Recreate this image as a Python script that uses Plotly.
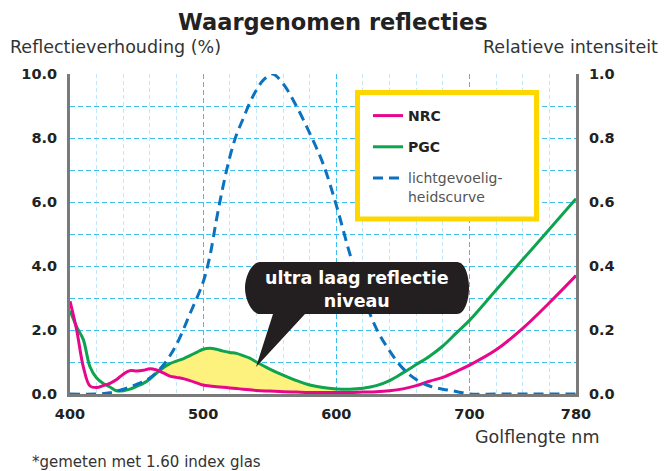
import plotly.graph_objects as go

# ---------------- data ----------------
wavelength = [400, 405, 410, 415, 420, 425, 430, 435, 440, 445, 450, 455, 460, 465,
              470, 475, 480, 485, 490, 495, 500, 505, 510, 515, 520, 525, 530, 535,
              540, 550, 560, 570, 580, 590, 600, 610, 620, 630, 640, 650, 660, 670,
              680, 690, 700, 720, 740, 760, 780]
nrc = [2.9, 2.0, 0.85, 0.25, 0.2, 0.26, 0.33, 0.45, 0.62, 0.73, 0.72, 0.74, 0.79, 0.75,
       0.66, 0.56, 0.52, 0.48, 0.42, 0.35, 0.28, 0.25, 0.23, 0.21, 0.19, 0.17, 0.15, 0.13,
       0.11, 0.09, 0.07, 0.06, 0.05, 0.05, 0.05, 0.05, 0.06, 0.07, 0.1, 0.16, 0.26, 0.4,
       0.52, 0.7, 0.9, 1.38, 2.05, 2.85, 3.7]
pgc = [2.6, 2.1, 1.7, 0.85, 0.5, 0.33, 0.22, 0.1, 0.1, 0.15, 0.24, 0.33, 0.47, 0.65,
       0.82, 0.95, 1.03, 1.1, 1.2, 1.3, 1.4, 1.43, 1.4, 1.34, 1.3, 1.27, 1.2, 1.12,
       1.0, 0.78, 0.59, 0.42, 0.28, 0.2, 0.16, 0.15, 0.18, 0.26, 0.42, 0.66, 0.92, 1.18,
       1.5, 1.9, 2.3, 3.25, 4.2, 5.15, 6.1]
sens_wavelength = [400, 420, 430, 440, 450, 460, 470, 480, 490, 500, 505, 510, 515, 520,
                   525, 530, 535, 540, 545, 552, 560, 570, 580, 590, 600, 610, 620, 630,
                   640, 650, 660, 670, 680, 690, 700, 720, 740, 760, 780]
sens_relative = [0.0, 0.0, 0.004, 0.015, 0.03, 0.05, 0.09, 0.155, 0.25, 0.35, 0.43, 0.545,
                 0.65, 0.74, 0.81, 0.86, 0.91, 0.95, 0.98, 1.0, 0.97, 0.9, 0.815, 0.72,
                 0.59, 0.44, 0.31, 0.205, 0.135, 0.08, 0.045, 0.025, 0.015, 0.008, 0.0,
                 0.0, 0.0, 0.0, 0.0]
x_tick_vals = [400, 500, 600, 700, 780]
x_tick_text = ["400", "500", "600", "700", "780"]
x_minor_grid = [420, 440, 460, 480, 520, 540, 560, 580, 620, 640, 660, 680, 720, 740, 760]
y_tick_vals = [0, 2, 4, 6, 8, 10]
y_tick_text = ["0.0", "2.0", "4.0", "6.0", "8.0", "10.0"]
y_minor_grid = [1, 3, 5, 7, 9]
y2_tick_vals = [0, 0.2, 0.4, 0.6, 0.8, 1.0]
y2_tick_text = ["0.0", "0.2", "0.4", "0.6", "0.8", "1.0"]
fill_start, fill_end = 470, 600

# ---------------- layout helpers (pixel -> paper) ----------------
L, R, T, B = 70, 576, 74, 394
def px(x):
    return (x - L) / (R - L)
def py(y):
    return (B - y) / (B - T)

FONT = "DejaVu Sans"
GRID = "#3fc0f0"
GRID_LIGHT = "#bfe7f8"
AXIS = "#7a7a7a"

fig = go.Figure()

idx = [i for i, w in enumerate(wavelength) if fill_start <= w <= fill_end]
fx = [wavelength[i] for i in idx]
fig.add_trace(go.Scatter(x=fx, y=[nrc[i] for i in idx], mode="lines",
                         line=dict(width=0, shape="spline", color="rgba(0,0,0,0)"),
                         showlegend=False, hoverinfo="skip"))
fig.add_trace(go.Scatter(x=fx, y=[pgc[i] for i in idx], mode="lines",
                         line=dict(width=0, shape="spline", color="rgba(0,0,0,0)"),
                         fill="tonexty", fillcolor="#fdf27e",
                         showlegend=False, hoverinfo="skip"))

fig.add_trace(go.Scatter(x=sens_wavelength, y=sens_relative, mode="lines", yaxis="y2",
                         name="<span style='color:#555'>lichtgevoelig-<br>heidscurve</span>",
                         line=dict(color="#0b72c0", width=3, dash="10px,6px", shape="spline"),
                         legendgroup="c", legendrank=3))
fig.add_trace(go.Scatter(x=wavelength, y=pgc, mode="lines", name="<b>PGC</b>",
                         line=dict(color="#0ea34f", width=3, shape="spline"),
                         legendgroup="b", legendrank=2))
fig.add_trace(go.Scatter(x=wavelength, y=nrc, mode="lines", name="<b>NRC</b>",
                         line=dict(color="#e8068a", width=3, shape="spline"),
                         legendgroup="a", legendrank=1))

tickfont = dict(family=FONT, size=14.5, color="#222", weight="bold")

# bubble path (pixels -> paper)
bubble_pts = [
    ("M", [(260, 262)]),
    ("L", [(457, 262)]),
    ("C", [(465, 262), (469, 276), (469, 288)]),
    ("C", [(469, 300), (465, 314), (457, 314)]),
    ("L", [(305, 314)]),
    ("L", [(256, 367)]),
    ("L", [(273, 314)]),
    ("L", [(260, 314)]),
    ("C", [(252, 314), (245, 300), (245, 288)]),
    ("C", [(245, 276), (252, 262), (260, 262)]),
]
path = ""
for cmd, pts in bubble_pts:
    path += cmd + " " + " ".join(f"{px(a):.5f},{py(b):.5f}" for a, b in pts) + " "
path += "Z"

fig.update_layout(
    width=664, height=471,
    margin=dict(l=L, r=664 - R, t=T, b=471 - B, pad=0),
    plot_bgcolor="white", paper_bgcolor="white",
    font=dict(family=FONT, color="#222"),
    xaxis=dict(range=[400, 780], tickvals=x_tick_vals, ticktext=x_tick_text,
               showline=True, linecolor=AXIS, linewidth=3, zeroline=False,
               showgrid=True, gridcolor=GRID, griddash="5px,3px", gridwidth=1,
               minor=dict(tickvals=x_minor_grid, showgrid=True, gridcolor=GRID_LIGHT,
                          griddash="4px,3px", gridwidth=1),
               ticks="", tickfont=tickfont, ticklabelstandoff=5),
    yaxis=dict(range=[0, 10], tickvals=y_tick_vals, ticktext=y_tick_text,
               showline=True, linecolor=AXIS, linewidth=3, zeroline=False,
               showgrid=True, gridcolor=GRID, griddash="5px,3px", gridwidth=1,
               minor=dict(tickvals=y_minor_grid, showgrid=True, gridcolor=GRID,
                          griddash="5px,3px", gridwidth=1),
               ticks="", tickfont=tickfont, ticklabelstandoff=7),
    yaxis2=dict(range=[0, 1], overlaying="y", side="right", tickvals=y2_tick_vals,
                ticktext=y2_tick_text, showline=True, linecolor=AXIS, linewidth=3,
                showgrid=False, zeroline=False, ticks="", tickfont=tickfont,
                ticklabelstandoff=7),
    legend=dict(x=px(368), y=py(100), xanchor="left", yanchor="top",
                bgcolor="rgba(0,0,0,0)", borderwidth=0,
                font=dict(family=FONT, size=14, color="#222"),
                tracegroupgap=10, valign="top", itemwidth=30),
    showlegend=True,
    shapes=[
        dict(type="rect", xref="paper", yref="paper", x0=px(357.5), x1=px(536.5),
             y0=py(219), y1=py(92.5), line=dict(color="#ffd700", width=5),
             fillcolor="white", layer="above"),
        dict(type="path", xref="paper", yref="paper", path=path,
             fillcolor="#231f20", line=dict(width=0), layer="above"),
    ],
    annotations=[
        dict(text="<b>Waargenomen reflecties</b>", x=px(333), y=py(22), xref="paper",
             yref="paper", showarrow=False, xanchor="center", yanchor="middle",
             font=dict(family=FONT, size=22.5, color="#222")),
        dict(text="Reflectieverhouding (%)", x=px(8), y=py(47), xref="paper",
             yref="paper", showarrow=False, xanchor="left", yanchor="middle",
             font=dict(family=FONT, size=17.5, color="#333")),
        dict(text="Relatieve intensiteit", x=px(660), y=py(47), xref="paper",
             yref="paper", showarrow=False, xanchor="right", yanchor="middle",
             font=dict(family=FONT, size=17.5, color="#333")),
        dict(text="Golflengte nm", x=px(601), y=py(437), xref="paper",
             yref="paper", showarrow=False, xanchor="right", yanchor="middle",
             font=dict(family=FONT, size=17.5, color="#333")),
        dict(text="*gemeten met 1.60 index glas", x=px(30), y=py(462), xref="paper",
             yref="paper", showarrow=False, xanchor="left", yanchor="middle",
             font=dict(family=FONT, size=15, color="#333")),
        dict(text="<b>ultra laag reflectie<br>niveau</b>", x=px(357), y=py(289),
             xref="paper", yref="paper", showarrow=False, xanchor="center",
             yanchor="middle", font=dict(family=FONT, size=17.5, color="white")),
    ],
)

fig.write_html("out.html", config={"displayModeBar": False},
               post_script="document.body.style.margin='0';document.body.style.overflow='hidden';")
